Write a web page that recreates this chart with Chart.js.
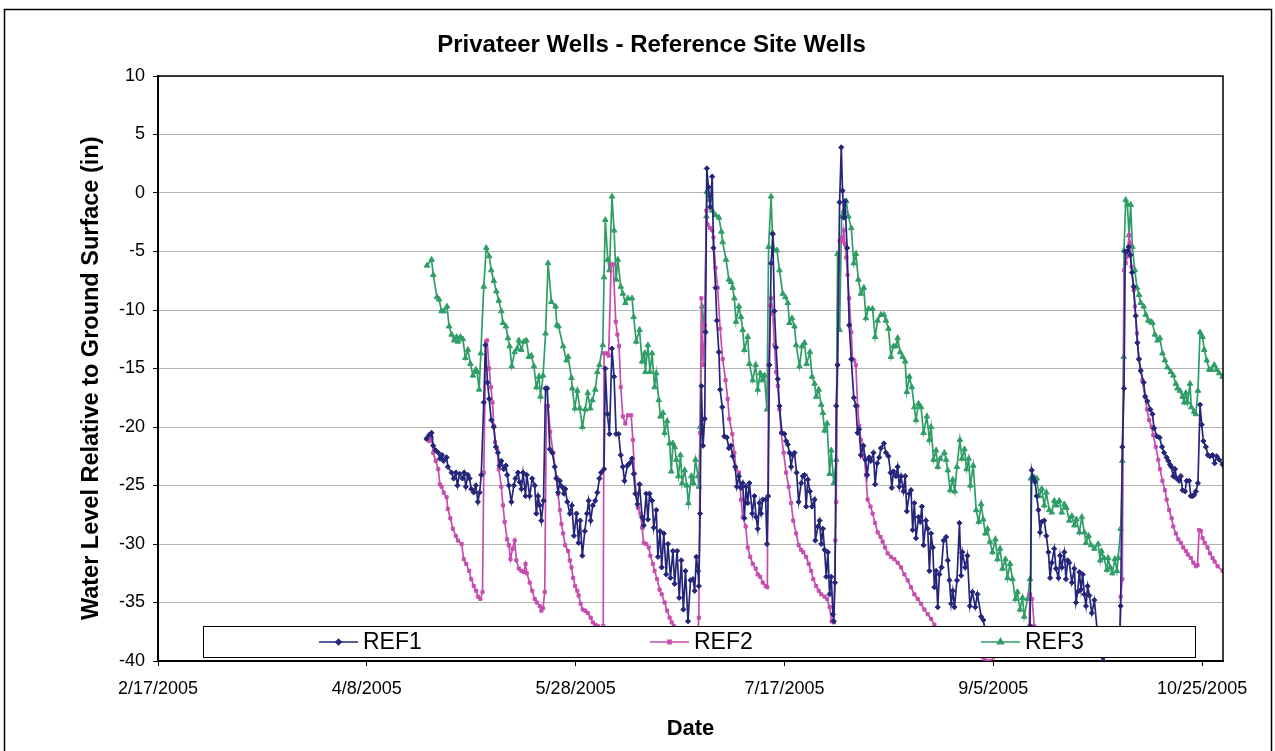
<!DOCTYPE html>
<html>
<head>
<meta charset="utf-8">
<script src="https://cdn.jsdelivr.net/npm/chart.js@4.4.1/dist/chart.umd.min.js"></script>
<style>
  html, body { margin: 0; padding: 0; background: #fff; }
  #wrap { width: 1275px; height: 751px; }
</style>
</head>
<body>
<div id="wrap"><canvas id="wells" width="1275" height="751"></canvas></div>
<script>
// x values are days counted from 2/17/2005 (the first axis label)
const dateTicks = ["2/17/2005", "4/8/2005", "5/28/2005", "7/17/2005", "9/5/2005", "10/25/2005"];
const seriesNames = ["REF1", "REF2", "REF3"];

// [day, water level (in)]
const REF1 = [
  [64.3,-21.0],[64.9,-20.7],[65.5,-20.5],[65.9,-21.6],[66.5,-22.0],[67.1,-22.2],[67.5,-22.7],[68.0,-22.4],[68.4,-22.9],[69.1,-22.6],
  [69.4,-23.4],[70.3,-23.9],[70.8,-24.4],[71.3,-23.9],[71.7,-25.0],[72.2,-24.0],[72.9,-24.4],[73.3,-23.9],[73.7,-25.1],[74.2,-24.1],
  [74.6,-24.4],[75.0,-25.3],[75.6,-25.6],[76.1,-25.0],[76.6,-26.4],[77.0,-25.6],[77.4,-24.1],[78.0,-17.9],[78.4,-13.0],[78.9,-16.2],
  [79.3,-17.6],[79.8,-19.4],[80.4,-20.0],[80.9,-21.7],[81.4,-22.2],[81.8,-23.3],[82.2,-22.9],[82.8,-23.6],[83.3,-23.3],[83.6,-24.1],
  [84.0,-25.0],[84.6,-26.4],[85.2,-25.0],[85.6,-24.4],[86.2,-23.9],[86.6,-24.7],[87.0,-25.3],[87.4,-23.9],[88.0,-25.9],[88.3,-24.1],
  [89.0,-25.9],[89.6,-24.4],[90.2,-25.0],[90.6,-27.4],[91.0,-25.9],[91.4,-26.7],[91.8,-28.0],[92.3,-26.3],[92.8,-16.7],[93.2,-16.7],
  [93.8,-21.9],[94.4,-22.2],[95.0,-23.4],[95.4,-24.4],[95.8,-25.6],[96.2,-24.6],[96.7,-25.1],[97.2,-25.7],[97.5,-25.3],[98.0,-26.4],
  [98.6,-27.4],[99.1,-26.7],[99.6,-29.3],[100.2,-27.4],[100.7,-29.9],[101.1,-28.0],[101.6,-31.0],[102.2,-28.9],[102.7,-27.4],[103.1,-26.3],
  [103.6,-28.0],[104.1,-26.7],[104.7,-26.3],[105.2,-25.6],[105.7,-24.4],[106.1,-23.9],[106.8,-23.6],[107.1,-15.0],[107.6,-18.9],[108.1,-20.6],
  [108.7,-13.3],[109.2,-15.7],[109.7,-20.6],[110.3,-20.6],[110.8,-22.4],[111.3,-23.4],[111.7,-24.6],[112.4,-23.3],[112.9,-23.1],[113.5,-22.7],
  [113.9,-24.0],[114.3,-25.7],[114.8,-26.6],[115.3,-24.9],[115.9,-27.7],[116.3,-28.4],[116.9,-25.7],[117.3,-27.9],[117.7,-25.7],[118.3,-26.3],
  [118.7,-28.6],[119.3,-27.1],[119.7,-31.1],[120.2,-28.9],[120.6,-32.0],[121.1,-29.1],[121.7,-32.6],[122.1,-30.0],[122.7,-32.9],[123.3,-30.6],
  [123.7,-33.4],[124.3,-30.6],[124.8,-34.6],[125.3,-31.4],[125.8,-35.6],[126.3,-32.3],[126.9,-36.6],[127.5,-33.1],[128.1,-33.0],[128.5,-34.0],
  [128.9,-31.1],[129.3,-32.3],[129.5,-33.6],[129.8,-27.4],[130.1,-16.5],[130.5,-21.6],[130.9,-19.3],[131.1,-11.9],[131.4,2.1],[131.8,0.5],
  [132.2,-1.2],[132.7,1.4],[133.0,-4.7],[133.5,-8.1],[133.8,-10.9],[134.3,-13.6],[134.6,-16.8],[135.1,-18.3],[135.6,-20.8],[136.2,-20.9],
  [136.7,-21.8],[137.2,-21.6],[137.6,-22.5],[138.2,-23.4],[138.6,-25.1],[139.1,-24.2],[139.6,-25.2],[140.0,-24.8],[140.4,-27.8],[140.8,-25.1],
  [141.2,-26.5],[141.6,-24.8],[142.3,-27.4],[142.8,-25.9],[143.2,-27.7],[143.6,-28.7],[144.0,-26.5],[144.4,-27.4],[144.8,-26.2],[145.5,-26.2],
  [145.8,-30.0],[146.1,-25.9],[146.4,-14.7],[146.8,-6.0],[147.2,-3.5],[147.6,-10.1],[148.0,-13.2],[148.4,-15.9],[148.8,-18.2],[149.4,-20.5],
  [150.0,-20.6],[150.4,-21.2],[150.8,-21.5],[151.2,-22.2],[151.6,-23.4],[152.0,-22.4],[152.4,-22.2],[152.9,-23.9],[153.4,-26.4],[154.0,-24.8],
  [154.4,-24.2],[154.8,-24.1],[155.2,-26.8],[155.6,-24.5],[156.1,-25.5],[156.6,-26.8],[157.2,-26.2],[157.4,-29.7],[158.0,-28.5],[158.4,-28.0],
  [158.8,-30.0],[159.2,-28.7],[159.6,-30.5],[160.0,-32.8],[160.4,-30.7],[160.8,-34.3],[161.2,-32.8],[161.6,-36.0],[161.8,-36.6],[162.1,-33.3],
  [162.4,-18.2],[162.7,-14.7],[163.2,-0.8],[163.6,3.9],[163.9,0.2],[164.2,-2.1],[164.5,-0.7],[165.0,-4.7],[165.5,-11.3],[166.0,-14.2],
  [166.6,-17.5],[167.1,-18.2],[167.5,-20.5],[167.9,-20.2],[168.3,-22.4],[168.9,-21.6],[169.4,-22.8],[169.8,-24.1],[170.3,-22.6],[170.7,-22.9],
  [171.3,-22.2],[171.7,-24.9],[172.2,-23.1],[172.7,-22.6],[173.1,-21.8],[173.8,-21.4],[174.3,-22.2],[174.9,-22.5],[175.4,-23.9],[175.7,-25.2],
  [176.1,-23.8],[176.7,-24.2],[177.1,-23.4],[177.5,-25.1],[177.9,-24.2],[178.5,-25.5],[178.9,-24.2],[179.3,-27.2],[179.9,-25.7],[180.3,-25.4],
  [180.7,-28.8],[181.1,-26.5],[181.5,-29.5],[182.1,-27.7],[182.5,-28.1],[182.9,-26.8],[183.3,-30.1],[183.9,-28.0],[184.3,-28.7],[184.7,-32.3],
  [185.1,-29.1],[185.5,-30.3],[185.9,-33.7],[186.3,-32.3],[186.7,-35.4],[187.1,-32.6],[187.6,-32.0],[188.1,-29.7],[188.7,-29.4],[189.1,-31.4],
  [189.5,-33.1],[189.9,-35.1],[190.3,-34.0],[190.7,-35.4],[191.3,-33.1],[191.9,-28.2],[192.3,-32.7],[192.6,-30.7],[193.3,-32.0],[193.8,-31.0],
  [194.4,-35.3],[195.0,-34.1],[195.7,-35.4],[196.2,-34.3],[197.1,-36.2],[197.6,-36.5],[198.1,-37.5],[199.0,-38.5],[201.4,-39.0],[203.8,-38.8],
  [206.2,-39.3],[208.1,-39.0],[208.8,-37.0],[209.2,-23.7],[209.6,-24.4],[210.0,-24.7],[210.4,-25.9],[210.8,-27.1],[211.2,-29.0],[211.6,-28.1],
  [212.2,-28.0],[212.7,-29.3],[213.2,-30.7],[213.6,-32.9],[214.0,-31.6],[214.6,-30.4],[215.0,-32.1],[215.6,-32.9],[216.0,-31.0],[216.4,-32.0],
  [217.0,-30.7],[217.4,-33.0],[217.8,-31.4],[218.2,-31.6],[218.8,-33.3],[219.4,-32.1],[219.8,-35.0],[220.2,-34.1],[220.6,-32.4],[221.0,-33.9],
  [221.4,-32.6],[221.8,-34.3],[222.2,-35.3],[222.6,-33.6],[223.0,-34.4],[223.6,-35.9],[224.2,-34.8],[224.9,-37.5],[225.6,-39.5],[226.3,-40.0],
  [227.3,-39.0],[228.5,-39.5],[229.7,-39.0],[230.3,-38.0],[230.5,-35.3],[230.9,-21.7],[231.3,-16.7],[231.6,-5.0],[232.0,-5.0],[232.4,-4.6],
  [232.8,-5.3],[233.2,-6.8],[233.6,-8.0],[234.1,-10.5],[234.5,-12.8],[234.9,-14.2],[235.3,-15.2],[236.0,-16.2],[236.4,-17.4],[236.9,-17.8],
  [237.6,-18.5],[238.1,-18.9],[238.5,-20.1],[239.2,-20.8],[239.8,-20.9],[240.4,-21.7],[240.9,-22.2],[241.5,-22.6],[241.9,-22.9],[242.3,-23.2],
  [242.6,-23.4],[243.1,-24.2],[243.5,-23.6],[243.9,-24.4],[244.5,-24.6],[244.9,-24.2],[245.3,-25.4],[245.9,-25.5],[246.3,-24.6],[246.9,-24.6],
  [247.3,-25.9],[247.7,-25.9],[248.1,-25.8],[248.5,-25.5],[249.0,-24.8],[249.5,-18.1],[249.9,-19.8],[250.3,-21.2],[250.9,-21.7],[251.4,-22.4],
  [251.9,-22.5],[252.5,-22.4],[253.0,-23.1],[253.5,-22.5],[254.1,-22.8],[254.9,-23.2],[255.5,-23.5]
];

const REF2 = [
  [64.3,-21.0],[64.9,-21.2],[65.5,-20.9],[65.9,-22.2],[66.5,-22.9],[67.1,-23.6],[67.5,-24.9],[67.9,-25.1],[68.4,-25.6],[69.1,-26.0],
  [69.4,-27.0],[70.0,-27.8],[70.6,-28.7],[71.3,-29.3],[71.8,-29.7],[72.7,-30.0],[73.2,-31.3],[73.8,-31.7],[74.5,-32.3],[75.0,-33.0],
  [75.6,-33.6],[76.2,-34.0],[76.6,-34.5],[77.2,-34.7],[77.7,-34.1],[78.0,-23.9],[78.5,-12.7],[78.8,-12.6],[79.3,-15.0],[79.7,-16.6],
  [80.1,-17.9],[80.4,-19.9],[80.7,-21.3],[81.2,-21.9],[81.6,-23.6],[82.2,-25.1],[82.6,-26.7],[83.0,-28.1],[83.6,-29.6],[84.0,-30.1],
  [84.4,-31.3],[84.9,-30.4],[85.4,-29.7],[85.8,-31.4],[86.4,-32.1],[87.0,-32.3],[87.6,-32.4],[88.0,-31.7],[88.3,-32.5],[89.0,-33.3],
  [89.6,-34.0],[90.2,-34.7],[90.7,-35.0],[91.4,-35.3],[91.8,-35.7],[92.2,-35.5],[92.6,-34.1],[93.0,-18.2],[93.4,-18.2],[93.9,-20.4],
  [94.6,-22.2],[95.4,-24.3],[95.8,-25.7],[96.2,-27.1],[96.6,-28.3],[97.0,-29.1],[97.5,-30.1],[98.2,-30.6],[98.6,-31.4],[99.0,-32.0],
  [99.4,-32.9],[99.9,-33.6],[100.4,-34.0],[100.7,-34.4],[101.2,-35.1],[101.7,-35.6],[102.3,-35.7],[102.9,-35.9],[103.6,-36.3],[104.1,-36.7],
  [104.7,-36.9],[105.3,-37.0],[106.1,-37.2],[106.6,-37.0],[106.8,-13.7],[107.3,-13.7],[107.9,-13.9],[108.5,-6.1],[109.0,-6.1],[109.6,-11.0],
  [110.0,-12.1],[110.4,-13.1],[110.8,-16.6],[111.3,-19.1],[111.9,-19.7],[112.5,-19.0],[113.3,-19.0],[113.7,-21.1],[114.1,-24.0],[114.5,-25.7],
  [114.9,-26.9],[115.5,-27.4],[115.9,-28.6],[116.3,-29.9],[116.9,-30.0],[117.5,-30.3],[117.9,-31.0],[118.5,-31.7],[118.9,-32.3],[119.5,-33.0],
  [120.1,-33.9],[120.6,-34.3],[121.3,-35.0],[121.9,-35.7],[122.5,-36.3],[123.0,-36.7],[123.5,-37.0],[124.9,-37.8],[126.3,-38.5],[127.8,-39.0],
  [128.9,-39.5],[129.5,-36.3],[129.8,-20.5],[130.1,-9.0],[130.3,-13.0],[130.6,-14.7],[130.9,-11.3],[131.3,-1.5],[131.6,-2.7],[132.2,-3.0],
  [132.7,-3.2],[133.0,-3.8],[133.5,-6.4],[134.0,-8.1],[134.6,-11.6],[135.2,-14.2],[135.9,-16.0],[136.4,-17.6],[136.8,-19.3],[137.5,-20.6],
  [138.0,-22.2],[138.4,-23.6],[139.1,-23.9],[139.6,-26.2],[140.0,-27.7],[140.7,-28.5],[141.2,-30.3],[141.8,-31.1],[142.4,-31.7],[143.1,-32.1],
  [143.6,-32.6],[144.2,-32.8],[144.8,-33.3],[145.5,-33.6],[145.9,-33.7],[146.2,-14.7],[146.6,-9.6],[146.8,-9.0],[147.2,-10.3],[147.6,-13.0],
  [148.0,-15.3],[148.4,-16.5],[148.8,-18.5],[149.2,-20.5],[149.8,-22.2],[150.4,-23.9],[151.0,-25.1],[151.6,-26.5],[152.1,-28.0],[152.8,-29.1],
  [153.4,-30.1],[154.0,-30.5],[154.5,-30.7],[155.2,-31.1],[155.8,-31.7],[156.4,-32.3],[156.9,-33.0],[157.6,-33.6],[158.2,-34.0],[158.8,-34.3],
  [159.6,-34.5],[160.2,-34.7],[160.8,-35.4],[161.3,-36.6],[161.8,-36.7],[162.2,-29.7],[162.4,-26.4],[162.7,-14.7],[163.2,-4.1],[163.6,-3.8],
  [163.9,-4.1],[164.2,-3.2],[164.5,-4.4],[164.8,-5.5],[165.1,-7.0],[165.5,-9.0],[166.0,-11.9],[166.3,-14.2],[166.7,-14.3],[167.1,-14.7],
  [167.5,-18.2],[167.9,-19.9],[168.3,-21.1],[168.7,-21.9],[169.1,-22.6],[169.5,-24.1],[169.9,-26.2],[170.6,-26.8],[171.1,-27.4],[171.7,-28.2],
  [172.3,-29.0],[173.0,-29.4],[173.5,-29.8],[174.1,-30.3],[174.7,-30.8],[175.5,-31.1],[176.3,-31.3],[177.1,-31.6],[177.9,-32.0],[178.7,-32.6],
  [179.5,-33.1],[180.3,-33.7],[181.1,-34.3],[181.9,-34.7],[182.7,-35.1],[183.5,-35.6],[184.3,-36.0],[185.1,-36.4],[185.9,-36.9],[186.5,-37.3],
  [188.3,-38.0],[190.7,-38.7],[193.1,-39.2],[195.5,-39.5],[197.8,-39.8],[199.0,-40.0],[201.4,-39.5],[203.8,-39.4],[206.2,-39.5],[208.4,-39.3],
  [208.8,-34.3],[209.3,-34.7],[209.8,-37.0],[211.0,-38.3],[213.4,-38.8],[214.6,-39.0],[217.0,-39.3],[220.6,-39.4],[224.2,-39.5],[227.8,-39.5],
  [230.2,-39.5],[230.5,-34.5],[230.9,-33.0],[231.3,-6.6],[231.7,-6.0],[232.1,-5.4],[232.5,-3.6],[232.8,-4.3],[233.1,-6.3],[233.6,-8.3],
  [233.9,-9.7],[234.4,-12.0],[234.8,-14.2],[235.3,-15.1],[235.7,-16.0],[236.3,-17.4],[236.8,-18.5],[237.3,-19.4],[237.9,-20.0],[238.3,-20.7],
  [238.9,-21.7],[239.5,-22.8],[239.9,-23.6],[240.5,-24.6],[241.1,-25.4],[241.5,-26.2],[242.1,-27.1],[242.7,-27.8],[243.1,-28.5],[243.7,-29.1],
  [244.3,-29.6],[244.9,-29.9],[245.5,-30.3],[246.1,-30.6],[246.6,-30.9],[247.3,-31.2],[247.9,-31.6],[248.5,-31.9],[248.9,-31.8],[249.3,-28.8],
  [249.7,-28.9],[250.1,-29.5],[250.6,-29.9],[251.3,-30.3],[251.9,-30.8],[252.5,-31.2],[253.0,-31.5],[253.7,-31.9],[254.9,-32.3],[255.5,-32.5]
];

const REF3 = [
  [64.4,-6.2],[65.5,-5.7],[65.9,-7.0],[66.8,-8.9],[67.3,-9.1],[67.9,-10.1],[68.4,-10.1],[69.2,-9.7],[69.7,-11.4],[70.3,-12.1],
  [70.9,-12.6],[71.5,-12.3],[71.8,-12.7],[72.4,-12.3],[73.0,-12.5],[73.6,-14.1],[74.2,-13.4],[74.8,-14.6],[75.4,-15.6],[76.1,-15.1],
  [76.4,-15.3],[76.9,-16.8],[77.3,-13.7],[78.0,-8.0],[78.6,-4.7],[79.3,-5.4],[79.8,-6.6],[80.4,-7.5],[81.0,-8.4],[81.6,-9.2],
  [82.2,-10.1],[82.6,-11.1],[83.3,-11.4],[83.8,-12.4],[84.2,-13.1],[84.7,-14.8],[85.4,-13.6],[86.0,-13.3],[86.4,-12.6],[87.0,-13.4],
  [87.6,-12.7],[88.2,-12.6],[88.8,-14.0],[89.4,-13.9],[90.0,-14.8],[90.6,-16.6],[91.2,-15.7],[91.6,-17.4],[92.2,-15.6],[92.8,-12.0],
  [93.4,-6.0],[94.2,-9.3],[95.2,-9.7],[95.5,-11.3],[95.9,-11.4],[97.0,-13.1],[97.8,-14.3],[98.2,-14.0],[99.0,-15.8],[99.2,-16.7],
  [99.8,-18.4],[100.4,-16.9],[101.0,-18.4],[101.6,-20.0],[102.3,-18.5],[102.9,-17.1],[103.5,-18.4],[104.0,-17.7],[104.7,-16.8],[105.2,-15.3],
  [105.7,-14.7],[106.5,-13.0],[106.8,-7.2],[107.1,-2.3],[107.7,-5.7],[108.1,-6.6],[108.7,-0.3],[109.2,-3.2],[109.7,-7.4],[110.1,-5.7],
  [110.8,-8.0],[111.3,-8.6],[111.9,-9.4],[112.5,-9.0],[113.5,-9.0],[113.9,-10.6],[114.5,-12.7],[115.3,-11.7],[115.9,-14.4],[116.5,-13.7],
  [116.7,-15.3],[117.3,-13.0],[117.8,-15.3],[118.3,-13.7],[118.9,-16.6],[119.3,-15.4],[119.9,-17.7],[120.3,-19.1],[120.9,-18.8],[121.3,-20.5],
  [121.9,-19.5],[122.5,-21.4],[122.9,-23.8],[123.3,-21.4],[123.7,-21.7],[124.1,-22.8],[124.6,-24.2],[125.1,-22.4],[125.5,-24.8],[126.1,-23.7],
  [126.6,-25.0],[127.0,-26.5],[127.7,-24.2],[128.2,-24.8],[128.7,-22.8],[129.3,-24.2],[129.5,-25.1],[129.8,-20.0],[130.3,-9.7],[130.9,-11.7],
  [131.3,-2.0],[131.4,0.1],[132.1,-0.6],[132.7,-1.5],[133.5,-1.9],[134.3,-2.1],[134.9,-3.3],[135.2,-4.2],[136.0,-5.7],[136.7,-7.4],
  [137.2,-7.6],[137.6,-8.1],[138.0,-9.0],[138.4,-11.0],[139.1,-9.7],[139.6,-10.6],[140.0,-11.7],[140.4,-13.4],[141.2,-12.3],[141.6,-14.6],
  [142.4,-16.0],[143.1,-14.7],[143.6,-16.8],[144.2,-15.4],[144.7,-16.0],[145.2,-15.6],[145.8,-18.5],[146.2,-4.6],[146.8,-0.3],[147.1,-3.4],
  [147.6,-4.9],[148.2,-4.9],[148.8,-6.6],[149.6,-8.6],[150.2,-8.9],[150.8,-9.4],[151.2,-11.1],[151.8,-10.7],[152.4,-11.4],[152.8,-13.0],
  [153.6,-14.8],[154.2,-13.1],[154.8,-12.8],[155.3,-14.6],[156.1,-13.6],[156.6,-15.7],[157.2,-16.3],[157.6,-17.4],[158.2,-16.8],[158.8,-18.1],
  [159.2,-18.8],[159.6,-20.3],[160.2,-19.7],[160.8,-24.0],[161.2,-22.0],[161.8,-24.8],[162.4,-22.8],[162.7,-5.2],[163.2,-11.7],[163.7,-2.0],
  [164.2,-1.5],[164.8,-0.7],[165.3,-2.0],[166.0,-3.0],[166.6,-6.0],[167.1,-5.2],[167.7,-7.4],[168.3,-8.6],[169.0,-8.1],[169.5,-10.7],
  [170.1,-9.9],[171.1,-9.9],[171.7,-12.3],[172.3,-10.9],[173.1,-10.4],[173.8,-10.4],[174.3,-10.9],[174.9,-11.6],[175.5,-14.0],[176.1,-13.1],
  [176.7,-13.1],[177.1,-12.4],[177.7,-13.6],[178.3,-14.0],[178.9,-14.4],[179.3,-17.0],[179.9,-15.7],[180.5,-16.6],[181.1,-18.3],[181.5,-19.4],
  [182.1,-18.0],[182.7,-18.3],[183.3,-20.5],[184.1,-19.1],[184.7,-21.1],[185.1,-20.0],[185.7,-22.8],[186.3,-22.0],[186.7,-23.4],[187.3,-22.7],
  [188.3,-22.2],[188.7,-22.8],[189.1,-23.7],[189.7,-25.4],[190.3,-24.5],[190.8,-25.5],[191.3,-23.4],[192.0,-21.1],[192.5,-22.7],[193.1,-21.9],
  [193.6,-23.6],[194.1,-22.7],[194.5,-25.0],[195.2,-23.3],[195.9,-27.1],[196.5,-28.1],[197.1,-26.6],[197.6,-27.9],[198.1,-29.1],[198.6,-28.7],
  [199.2,-29.8],[199.8,-30.7],[200.5,-29.6],[201.0,-31.3],[201.6,-30.4],[202.2,-32.1],[202.9,-31.3],[203.4,-32.9],[204.0,-31.7],[204.6,-33.0],
  [205.3,-34.7],[205.8,-34.1],[206.4,-35.6],[207.0,-34.6],[207.4,-36.2],[208.2,-34.7],[208.8,-33.0],[209.0,-24.4],[209.8,-24.3],[210.4,-24.4],
  [211.0,-25.9],[211.6,-25.3],[212.2,-26.7],[212.7,-25.6],[213.4,-27.1],[214.0,-27.3],[214.6,-26.3],[215.1,-26.7],[215.8,-26.3],[216.4,-27.3],
  [217.0,-26.6],[217.5,-26.9],[218.2,-28.0],[218.8,-27.6],[219.4,-28.4],[219.9,-27.9],[220.6,-29.0],[221.2,-27.7],[221.8,-29.0],[222.2,-29.9],
  [222.8,-29.3],[223.4,-30.1],[224.2,-30.4],[225.1,-30.0],[225.6,-31.4],[225.9,-30.6],[226.5,-31.2],[227.2,-32.2],[227.5,-31.2],[228.0,-32.0],
  [228.5,-32.5],[229.1,-31.3],[229.6,-32.3],[229.9,-31.2],[230.5,-28.7],[230.9,-22.9],[231.2,-14.0],[231.3,-4.9],[231.7,-0.6],[232.1,-1.0],
  [232.5,-3.6],[232.9,-1.0],[233.3,-4.6],[233.9,-6.6],[234.4,-8.1],[234.9,-8.7],[235.3,-9.4],[236.0,-9.7],[236.5,-10.4],[237.1,-10.9],
  [237.7,-11.0],[238.1,-11.1],[238.7,-12.1],[239.3,-12.6],[239.9,-12.4],[240.5,-13.7],[241.1,-14.3],[241.7,-14.9],[242.5,-15.3],[243.1,-15.6],
  [243.7,-16.3],[244.1,-16.7],[244.7,-16.9],[245.3,-17.4],[245.7,-17.9],[246.1,-17.1],[246.5,-17.9],[247.1,-16.3],[247.4,-18.3],[248.1,-18.7],
  [248.5,-18.9],[249.0,-16.9],[249.5,-11.9],[250.1,-12.3],[250.5,-13.4],[251.1,-14.3],[251.7,-15.1],[252.2,-15.1],[252.9,-14.7],[253.5,-15.1],
  [254.1,-15.4],[254.9,-15.7],[255.5,-16.0]
];

const FONT = "'Liberation Sans', Arial, Helvetica, sans-serif";
Chart.defaults.font.family = FONT;
Chart.defaults.color = "#000";

function points(rows) {
  return rows.map(r => ({ x: r[0], y: r[1] }));
}

function lineSet(label, rows, colour, style, radius) {
  return {
    label,
    data: points(rows),
    borderColor: colour,
    backgroundColor: colour,
    borderWidth: 1.7,
    pointStyle: style,
    pointRadius: radius,
    pointBorderWidth: 1,
    pointHoverRadius: radius,
    tension: 0,
  };
}

// outer frame, plot frame and the in-plot legend box
const excelBits = {
  id: "excelBits",
  beforeDraw(chart) {
    const ctx = chart.ctx;
    ctx.save();
    ctx.fillStyle = "#fff";
    ctx.fillRect(0, 0, chart.width, chart.height);
    ctx.strokeStyle = "#000";
    ctx.lineWidth = 1.5;
    ctx.strokeRect(4.5, 9.5, chart.width - 8, chart.height + 20);
    ctx.restore();
  },
  afterDatasetsDraw(chart) {
    const { ctx, chartArea: a } = chart;
    ctx.save();
    ctx.strokeStyle = "#000";
    ctx.lineWidth = 1.5;
    ctx.beginPath();
    ctx.moveTo(a.left, a.top);
    ctx.lineTo(a.right, a.top);
    ctx.lineTo(a.right, a.bottom);
    ctx.stroke();

    const lx = a.left + 45, ly = a.bottom - 35;
    const lw = a.right - 28 - lx, lh = 31;
    ctx.fillStyle = "#fff";
    ctx.fillRect(lx, ly, lw, lh);
    ctx.lineWidth = 1;
    ctx.strokeRect(lx + 0.5, ly + 0.5, lw, lh);
    ctx.font = "23px " + FONT;
    ctx.textBaseline = "middle";
    chart.data.datasets.forEach((ds, i) => {
      const x0 = lx + 116 + i * 331, y0 = ly + lh / 2 + 0.5;
      ctx.strokeStyle = ds.borderColor;
      ctx.fillStyle = ds.borderColor;
      ctx.lineWidth = ds.borderWidth;
      ctx.beginPath();
      ctx.moveTo(x0, y0);
      ctx.lineTo(x0 + 39, y0);
      ctx.stroke();
      Chart.helpers.drawPoint(ctx, { pointStyle: ds.pointStyle, radius: ds.pointRadius, borderWidth: 1, rotation: 0 }, x0 + 19.5, y0);
      ctx.fillStyle = "#000";
      ctx.fillText(ds.label, x0 + 44, y0 + 1);
    });
    ctx.restore();
  },
};

new Chart(document.getElementById("wells"), {
  type: "line",
  data: {
    datasets: [
      lineSet(seriesNames[0], REF1, "#25267a", "rectRot", 2.6),
      lineSet(seriesNames[1], REF2, "#c64dae", "rect", 2.2),
      lineSet(seriesNames[2], REF3, "#2e9e66", "triangle", 3.2),
    ],
  },
  options: {
    responsive: false,
    animation: false,
    devicePixelRatio: 1,
    layout: { padding: { left: 28, right: 0, top: 0, bottom: 0 } },
    plugins: {
      legend: { display: false },
      tooltip: { enabled: false },
      title: {
        display: true,
        text: "Privateer Wells - Reference Site Wells",
        color: "#000",
        font: { size: 24, weight: "bold" },
        padding: { top: 31, bottom: 16.2 },
      },
    },
    scales: {
      x: {
        type: "linear",
        position: "bottom",
        min: 0,
        max: 255,
        // one tick per date label, every 50 days
        afterBuildTicks: axis => { axis.ticks = dateTicks.map((_, i) => ({ value: i * 50 })); },
        afterFit: s => { s.height = 90; },
        ticks: {
          stepSize: 50,
          autoSkip: false,
          maxRotation: 0,
          padding: 12,
          font: { size: 18 },
          callback: v => dateTicks[Math.round(v / 50)],
        },
        grid: { drawOnChartArea: false, drawTicks: true, tickLength: 5, tickColor: "#000", color: "#000" },
        border: { color: "#000", width: 2 },
        title: { display: true, text: "Date", font: { size: 22, weight: "bold" }, padding: { top: 0, bottom: 8.8 } },
      },
      y: {
        position: "left",
        min: -40,
        max: 10,
        afterFit: s => { s.width = 130; },
        ticks: { stepSize: 5, padding: 8, font: { size: 18 } },
        grid: { color: "#b3b3b3", lineWidth: 1, drawTicks: true, tickLength: 5, tickColor: "#000" },
        border: { color: "#000", width: 2 },
        title: {
          display: true,
          text: "Water Level Relative to Ground Surface (in)   ",
          font: { size: 23.5, weight: "bold" },
          padding: { top: 49, bottom: 0 },
        },
      },
      y2: {
        position: "right",
        display: true,
        afterFit: s => { s.width = 52; },
        grid: { display: false },
        ticks: { display: false },
        border: { display: false },
      },
    },
  },
  plugins: [excelBits],
});
</script>
</body>
</html>
